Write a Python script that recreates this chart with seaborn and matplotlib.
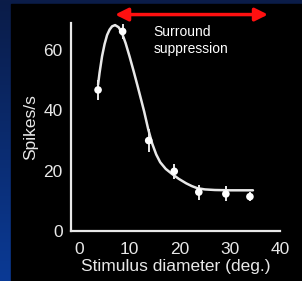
import numpy as np
import matplotlib
matplotlib.use("Agg")
import matplotlib.pyplot as plt
import seaborn as sns
from matplotlib.colors import LinearSegmentedColormap

# measured points (mean +/- error)
diam = [3.7, 8.6, 13.8, 18.9, 23.8, 29.2, 34.0]
rate = [46.8, 66.2, 30.0, 19.8, 12.9, 12.3, 11.4]
err = [3.2, 2.5, 3.9, 2.5, 2.5, 2.5, 1.5]

# fitted curve
fit_x = [3.7, 4.0, 4.5, 5.0, 5.5, 6.0, 6.5, 7.1, 7.8, 8.4, 9.2, 10.0, 10.8, 11.6,
         12.3, 12.9, 13.7, 14.5, 15.3, 16.1, 17.2, 18.4, 19.8, 21.3, 22.4, 23.5,
         25.0, 27.0, 30.0, 34.6]
fit_y = [48.5, 52.5, 58.0, 62.0, 65.0, 66.8, 67.9, 68.3, 67.6, 66.0, 62.3, 57.8,
         53.0, 48.0, 43.5, 39.6, 33.8, 29.0, 25.4, 22.8, 20.6, 19.0, 17.3, 15.8,
         14.9, 14.2, 13.8, 13.6, 13.5, 13.5]

xticks = [0, 10, 20, 30, 40]
yticks = [0, 20, 40, 60]

sns.set_theme(style="dark")
plt.rcParams["font.family"] = ["Liberation Sans", "DejaVu Sans"]

fg = "#e8e8e8"
fig = plt.figure(figsize=(3.02, 2.81), dpi=100)

# slide background: blue gradient with black panel
bg = fig.add_axes([0, 0, 1, 1])
cmap = LinearSegmentedColormap.from_list("slide", ["#0b1c48", "#0a3a95"])
bg.imshow(np.linspace(0, 1, 100).reshape(-1, 1), aspect="auto", cmap=cmap,
          extent=[0, 1, 0, 1])
bg.add_patch(plt.Rectangle((11 / 302, 0), 1, 1 - 4 / 281, color="black"))
bg.set_xlim(0, 1)
bg.set_ylim(0, 1)
bg.axis("off")

ax = fig.add_axes([71 / 302, 50 / 281, 209 / 302, 208 / 281])
ax.set_facecolor("black")

sns.lineplot(x=fit_x, y=fit_y, ax=ax, color=fg, lw=1.8)
ax.errorbar(diam, rate, yerr=err, fmt="none", ecolor=fg, elinewidth=1.4, capsize=0)
sns.scatterplot(x=diam, y=rate, ax=ax, color="white", s=30, edgecolor="none", zorder=5)

ax.set_xlim(-1.7, 38.6)
ax.set_ylim(0, 69)
ax.set_xticks(xticks)
ax.set_yticks(yticks)
ax.tick_params(length=0, labelsize=12.5, labelcolor=fg)
ax.tick_params(axis="x", pad=8)
ax.tick_params(axis="y", pad=6)
ax.grid(False)
for s in ["top", "right"]:
    ax.spines[s].set_visible(False)
for s in ["left", "bottom"]:
    ax.spines[s].set_color(fg)
    ax.spines[s].set_linewidth(1.6)

ax.set_xlabel("Stimulus diameter (deg.)", fontsize=12.5, color=fg, labelpad=1)
ax.set_ylabel("Spikes/s", fontsize=12.5, color=fg, labelpad=4)

# surround suppression arrow
ax.annotate("", xy=(7.1, 71.8), xytext=(37.6, 71.8), annotation_clip=False,
            arrowprops=dict(arrowstyle="<|-|>", color="#ff1010", lw=2.5,
                            mutation_scale=19, shrinkA=0, shrinkB=0))
ax.text(14.7, 68.5, "Surround\nsuppression", fontsize=10, color="white",
        va="top", ha="left", linespacing=1.3)

fig.savefig("out.png", dpi=100, facecolor=fig.get_facecolor())
